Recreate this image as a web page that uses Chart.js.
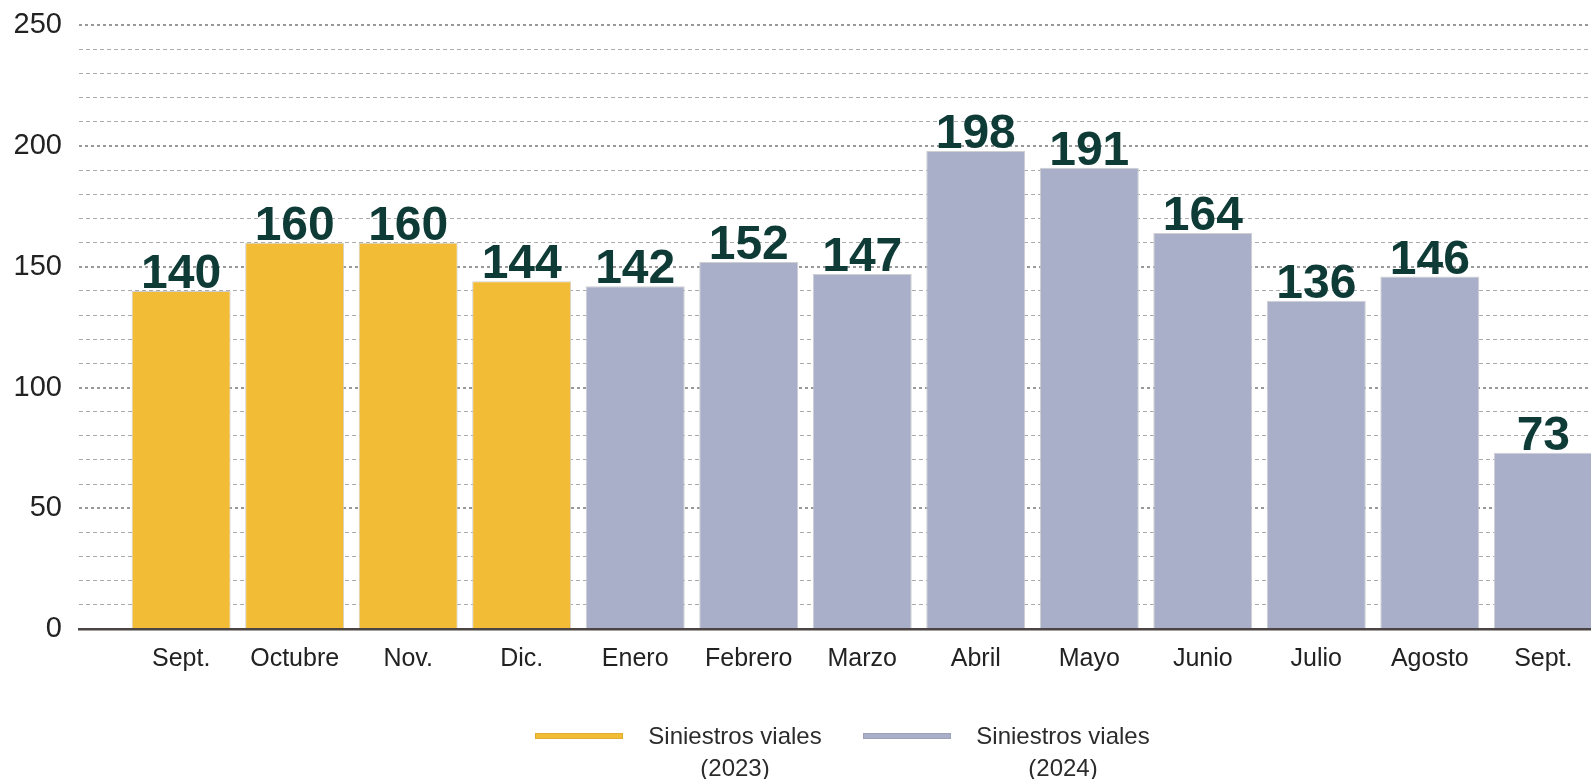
<!DOCTYPE html>
<html lang="es">
<head>
<meta charset="utf-8">
<title>Siniestros viales</title>
<script src="https://cdn.jsdelivr.net/npm/chart.js@4/dist/chart.umd.min.js"></script>
<style>
    html, body { margin: 0; padding: 0; background: #fff; }
    .wrap { position: relative; width: 1591px; height: 779px; overflow: hidden; }
    .legend {
        position: absolute; left: 535px; top: 720px;
        display: flex; align-items: flex-start;
        font-family: 'Liberation Sans', Arial, Helvetica, sans-serif;
        font-size: 24px; line-height: 32px; color: #2b2b2b;
    }
    .legend-item { display: flex; align-items: flex-start; margin-right: 39px; }
    .swatch { width: 88px; height: 6px; margin-top: 13px; margin-right: 23px; box-sizing: border-box; border: 1px solid rgba(0,0,0,0.08); }
    .legend-text { text-align: center; width: 178px; }
</style>
</head>
<body>
<div class="wrap">
    <canvas id="chart"></canvas>
    <div class="legend" id="legend"></div>
</div>
<script>
// ===== SINIESTROS VIALES — bar chart =====

// Data
const months = ['Sept.', 'Octubre', 'Nov.', 'Dic.', 'Enero', 'Febrero', 'Marzo',
                'Abril', 'Mayo', 'Junio', 'Julio', 'Agosto', 'Sept.'];
const values2023 = [140, 160, 160, 144];
const values2024 = [142, 152, 147, 198, 191, 164, 136, 146, 73];
const seriesNames = [['Siniestros viales', '(2023)'], ['Siniestros viales', '(2024)']];
const yTicks = [0, 50, 100, 150, 200, 250];

const YELLOW = '#F3BC36';
const LILAC = '#A9AFC9';
const FONT = "'Liberation Sans', Arial, Helvetica, sans-serif";

// month index -> point on the linear x scale
const pts2023 = values2023.map((v, i) => ({ x: i, y: v }));
const pts2024 = values2024.map((v, i) => ({ x: i + values2023.length, y: v }));

// Value labels on top of the bars
const valueLabels = {
    id: 'valueLabels',
    afterDatasetsDraw(chart) {
        const ctx = chart.ctx;
        ctx.save();
        ctx.font = `bold 48px ${FONT}`;
        ctx.fillStyle = '#0f3b37';
        ctx.textAlign = 'center';
        ctx.textBaseline = 'alphabetic';
        chart.data.datasets.forEach((ds, di) => {
            chart.getDatasetMeta(di).data.forEach((bar, i) => {
                ctx.fillText(String(ds.data[i].y), bar.x, bar.y - 3);
            });
        });
        ctx.restore();
    }
};

const isMajor = v => v % 50 === 0;

new Chart(document.getElementById('chart').getContext('2d'), {
    type: 'bar',
    data: {
        datasets: [
            { label: seriesNames[0].join(' '), data: pts2023, backgroundColor: YELLOW },
            { label: seriesNames[1].join(' '), data: pts2024, backgroundColor: LILAC }
        ]
    },
    options: {
        responsive: true,
        maintainAspectRatio: false,
        animation: false,
        grouped: false,
        categoryPercentage: 1,
        barPercentage: 0.872,
        borderColor: '#cfcfcf',
        borderWidth: 1,
        layout: { padding: { top: 25, left: 0, right: 0, bottom: 0 } },
        plugins: {
            legend: { display: false },
            tooltip: { enabled: false }
        },
        scales: {
            x: {
                type: 'linear',
                offset: false,
                min: -0.9,
                max: 12.42,
                afterBuildTicks: scale => {
                    scale.ticks = months.map((_, i) => ({ value: i }));
                },
                afterFit: scale => { scale.height = 150; },
                grid: { display: false },
                border: { display: true, color: '#4a4442', width: 2.5 },
                ticks: {
                    autoSkip: false,
                    maxRotation: 0,
                    padding: 7,
                    color: '#222',
                    font: { family: FONT, size: 25 },
                    callback: v => months[v]
                }
            },
            y: {
                min: 0,
                max: 250,
                afterBuildTicks: scale => {
                    const t = [];
                    for (let v = 0; v <= 250; v += 10) t.push({ value: v });
                    scale.ticks = t;
                },
                afterFit: scale => { scale.width = 79; },
                grid: {
                    drawTicks: false,
                    color: c => c.tick.value === 0 ? 'rgba(0,0,0,0)' : (isMajor(c.tick.value) ? '#999' : '#ababab'),
                    lineWidth: c => isMajor(c.tick.value) ? 2 : 1
                },
                border: {
                    display: false,
                    dash: c => isMajor(c.tick.value) ? [3, 3] : [4, 3]
                },
                ticks: {
                    autoSkip: false,
                    padding: 17,
                    color: '#222',
                    font: { family: FONT, size: 29, lineHeight: 0.58 },
                    callback: v => yTicks.includes(v) ? String(v) : ''
                }
            }
        }
    },
    plugins: [valueLabels]
});

// HTML legend (two-line labels)
const legend = document.getElementById('legend');
[YELLOW, LILAC].forEach((color, i) => {
    const item = document.createElement('div');
    item.className = 'legend-item';
    item.innerHTML = `<div class="swatch" style="background:${color}"></div>` +
        `<div class="legend-text">${seriesNames[i].join('<br>')}</div>`;
    legend.appendChild(item);
});
</script>
</body>
</html>
